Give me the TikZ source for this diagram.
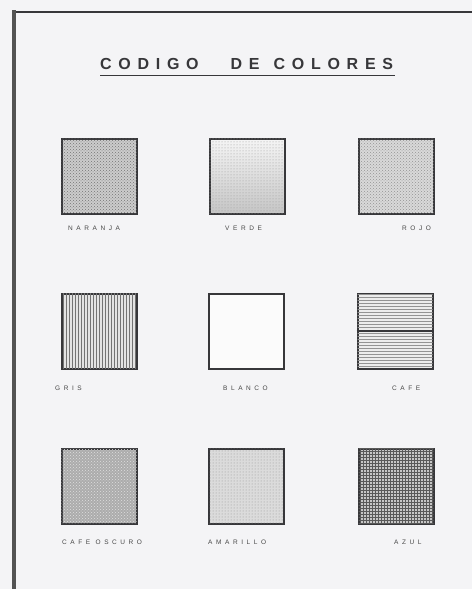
\documentclass[tikz,border=0pt]{standalone}
\usepackage{fontspec}
\setmainfont{Liberation Sans}
\newfontfamily\titlefont[LetterSpace=42]{Liberation Sans Bold}
\newfontfamily\labelfont[LetterSpace=55]{Liberation Sans}
\usetikzlibrary{patterns, positioning}
\definecolor{papel}{RGB}{244,244,246}
\definecolor{tinta}{RGB}{55,55,58}

\tikzset{
	muestra/.style={draw=tinta, line width=2pt, minimum size=75pt, inner sep=0pt},
	etiqueta/.style={font=\labelfont\fontsize{6.5}{6.5}\selectfont, text=gray!55!black, inner sep=0pt, anchor=west},
}

\begin{document}
\begin{tikzpicture}[x=1pt, y=-1pt]
	\useasboundingbox (0,0) rectangle (472,589);
	\fill[papel] (0,0) rectangle (472,589);
	
	%%% Marco
	\draw[line width=2.5pt, tinta] (12,12) -- (472,12);
	\draw[line width=4pt, gray!65!black] (14,10) -- (14,589);
	
	%%% Titulo
	\node[font=\titlefont\fontsize{16}{16}\selectfont, text=tinta, inner sep=0pt, anchor=west] (titulo) at (100,64) {CODIGO\hspace{32pt}DE\hspace{14pt}COLORES};
	\draw[line width=1.2pt, tinta] ([yshift=-6pt]titulo.south west) -- ([yshift=-6pt,xshift=2pt]titulo.south east);
	
	%%% Muestras - fila 1
	\node[muestra, fill=gray!40, postaction={pattern=crosshatch dots, pattern color=gray!90!black}] (naranja) at (99,176) {};
	\node[muestra, top color=gray!8, bottom color=gray!45, postaction={pattern=dots, pattern color=gray!80}] (verde) at (247,176) {};
	\node[muestra, fill=gray!30, postaction={pattern=crosshatch dots, pattern color=gray!85}] (rojo) at (396,176) {};
	
	%%% Muestras - fila 2
	\node[muestra, fill=gray!22, postaction={pattern=vertical lines, pattern color=gray!90!black}] (gris) at (99,331) {};
	\node[muestra, fill=gray!3] (blanco) at (246,331) {};
	\node[muestra, fill=gray!15, postaction={pattern=horizontal lines, pattern color=gray!85}] (cafe) at (395,331) {};
	\draw[tinta, line width=1.2pt] (cafe.west) -- (cafe.east);
	
	%%% Muestras - fila 3
	\node[muestra, fill=gray!65, postaction={pattern=crosshatch dots, pattern color=gray!25}] (cafeoscuro) at (99,486) {};
	\node[muestra, fill=gray!28, postaction={pattern=dots, pattern color=gray!85}] (amarillo) at (246,486) {};
	\node[muestra, fill=gray!45, postaction={pattern=grid, pattern color=gray!70!black}] (azul) at (396,486) {};
	
	%%% Etiquetas
	\node[etiqueta] (lnaranja) at (68,228) {NARANJA};
	\node[etiqueta] (lverde) at (225,228) {VERDE};
	\node[etiqueta] (lrojo) at (402,228) {ROJO};
	\node[etiqueta] (lgris) at (55,388) {GRIS};
	\node[etiqueta] (lblanco) at (223,388) {BLANCO};
	\node[etiqueta] (lcafe) at (392,388) {CAFE};
	\node[etiqueta] (lcafeoscuro) at (62,542) {CAFE OSCURO};
	\node[etiqueta] (lamarillo) at (208,542) {AMARILLO};
	\node[etiqueta] (lazul) at (394,542) {AZUL};
\end{tikzpicture}
\end{document}
